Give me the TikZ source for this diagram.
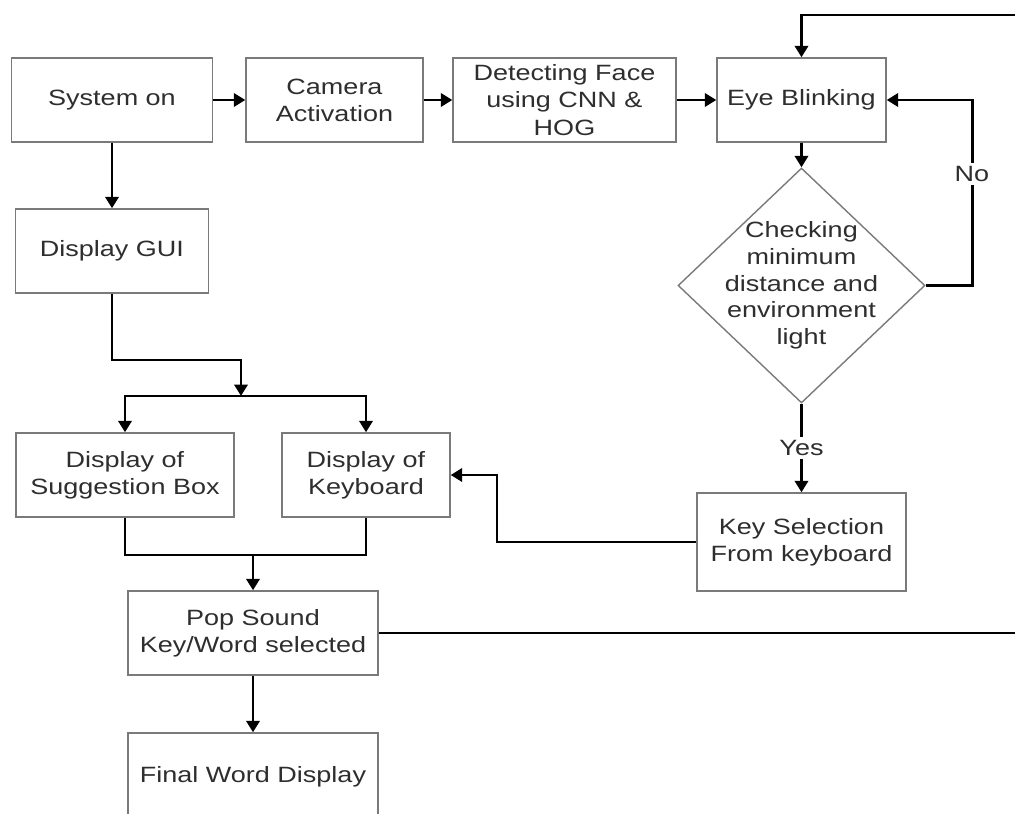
\documentclass[tikz,border=0pt]{standalone}
\usepackage{fontspec}
\setmainfont{Liberation Sans}[FakeStretch=1.22]
\usepackage{xcolor}
\usetikzlibrary{positioning, calc, arrows.meta, shapes.geometric}
\definecolor{boxgray}{HTML}{7A7A7A}
\definecolor{txtgray}{HTML}{2E2E2E}

\begin{document}
\begin{tikzpicture}[x=0.02cm, y=-0.02cm, >={Triangle[length=6.5pt,width=7.5pt]},
    block/.style={draw=boxgray, line width=0.8pt, rectangle, inner sep=0pt,
      text=txtgray, align=center, minimum height=1.68cm,
      font=\fontsize{12.6}{15.5}\selectfont},
    decision/.style={draw=boxgray, line width=0.8pt, diamond, inner sep=0pt,
      minimum width=4.94cm, minimum height=4.7cm},
    words/.style={text=txtgray, align=center, inner sep=0pt,
      font=\fontsize{12.6}{15.2}\selectfont},
    tag/.style={fill=white, text=txtgray, inner sep=2pt,
      font=\fontsize{12.6}{14}\selectfont},
    flow/.style={line width=1.7pt, black}]

    \useasboundingbox (0,0) rectangle (1015,814);
    \clip (0,0) rectangle (1015,814);

    % --- Top Row ---
    \node[block, minimum width=4.02cm] (sys) at (112,100) {System on};
    \node[block, minimum width=3.54cm] (cam) at (334.5,100) {Camera\\Activation};
    \node[block, minimum width=4.46cm] (det) at (564.5,100) {Detecting Face\\using CNN \&\\HOG};
    \node[block, minimum width=3.38cm] (eye) at (801.5,100) {Eye Blinking};

    % --- Left Column ---
    \node[block, minimum width=3.86cm] (gui) at (112,251) {Display GUI};
    \node[block, minimum width=4.36cm] (sug) at (125,475) {Display of\\Suggestion Box};
    \node[block, minimum width=3.36cm] (kbd) at (366,475) {Display of\\Keyboard};
    \node[block, minimum width=5.0cm] (pop) at (253,633) {Pop Sound\\Key/Word selected};
    \node[block, minimum width=5.0cm, minimum height=1.76cm] (fin) at (253,777) {Final Word Display};

    % --- Right Column ---
    \node[decision] (chk) at (801.5,285.5) {};
    \node[words] (chktxt) at (chk) {Checking\\minimum\\distance and\\environment\\light};
    \node[block, minimum width=4.18cm, minimum height=1.96cm] (key) at (801.5,542) {Key Selection\\From keyboard};

    % --- Bend and Junction Points ---
    \coordinate (bend) at (241,360);
    \coordinate (split) at (241,396);
    \coordinate (merge) at (253,555);
    \coordinate (noturn) at (972,285.5);
    \coordinate (kturn) at (497,475);
    \coordinate (loopend) at (1015,633);
    \coordinate (loopstart) at (1015,15);

    % --- Top Row Arrows ---
    \draw[flow,->] (sys) -- (cam);
    \draw[flow,->] (cam) -- (det);
    \draw[flow,->] (det) -- (eye);

    % --- Left Column Arrows ---
    \draw[flow,->] (sys) -- (gui);
    \draw[flow,->] (gui.south) |- (bend) -- (split);
    \draw[flow,->] (split) -| (sug);
    \draw[flow,->] (split) -| (kbd);
    \draw[flow] (sug.south) |- (merge) -| (kbd.south);
    \draw[flow,->] (merge) -- (pop);
    \draw[flow,->] (pop) -- (fin);

    % --- Loop Back to Eye Blinking ---
    \draw[flow] (pop.east) -- (loopend);
    \draw[flow,->] (loopstart) -| (eye.north);

    % --- Decision Branches ---
    \draw[flow,->] (eye) -- (chk);
    \draw[flow,->] (chk.east) -- (noturn) |- node[tag, pos=0.3] (no) {No} (eye.east);
    \draw[flow,->] (chk) -- node[tag] (yes) {Yes} (key);
    \draw[flow,->] (key.west) -| (kturn) -- (kbd.east);

\end{tikzpicture}
\end{document}
